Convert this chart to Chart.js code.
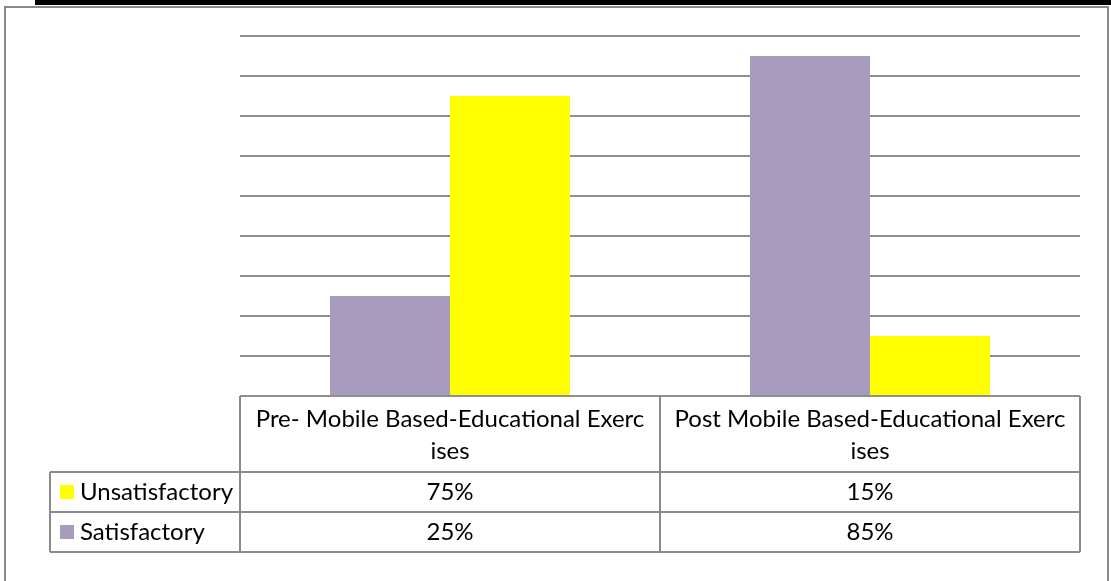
<!DOCTYPE html>
<html>
<head>
<meta charset="utf-8">
<script src="https://cdn.jsdelivr.net/npm/chart.js@4.4.1/dist/chart.umd.min.js"></script>
<style>
html,body{margin:0;padding:0;background:#fff;}
#wrap{position:relative;width:1111px;height:581px;}
canvas{display:block;}
</style>
</head>
<body>
<div id="wrap"><canvas id="c" width="1111" height="581"></canvas></div>
<script>
const categories = [["Pre- Mobile Based-Educational Exerc", "ises"], ["Post Mobile Based-Educational Exerc", "ises"]];
const seriesNames = ["Satisfactory", "Unsatisfactory"];
const satisfactory = [25, 85];
const unsatisfactory = [75, 15];
const tableRowOrder = ["Unsatisfactory", "Satisfactory"];
const colors = {Satisfactory: "#A99BBD", Unsatisfactory: "#FFFF00"};
const valueMap = {Satisfactory: satisfactory, Unsatisfactory: unsatisfactory};

const FONT_FAMILY = "Lato, 'Open Sans', sans-serif";

function fitFont(ctx, text, target, base) {
  ctx.font = base + "px " + FONT_FAMILY;
  const w = ctx.measureText(text).width;
  return Math.min(base * target / w, 24);
}

const tablePlugin = {
  id: 'tablePlugin',
  afterDraw(chart) {
    const ctx = chart.ctx;
    const ca = chart.chartArea;
    const xs = chart.scales.x;
    ctx.save();
    ctx.fillStyle = '#000';
    ctx.fillRect(35, 0, 1076, 5);
    ctx.strokeStyle = '#8a8a8a';
    ctx.lineWidth = 2;
    ctx.beginPath();
    ctx.moveTo(5, 590); ctx.lineTo(5, 7); ctx.lineTo(1108, 7); ctx.lineTo(1108, 590);
    ctx.stroke();

    const left = ca.left, right = ca.right, top = ca.bottom;
    const hdrBottom = top + 76, row1 = hdrBottom + 40, row2 = row1 + 40;
    const legLeft = 50;
    const mid = (xs.getPixelForValue(0) + xs.getPixelForValue(1)) / 2;
    ctx.strokeStyle = '#8a8a8a';
    ctx.lineWidth = 2;
    ctx.beginPath();
    ctx.moveTo(left, top); ctx.lineTo(left, row2);
    ctx.moveTo(right, top); ctx.lineTo(right, row2);
    ctx.moveTo(mid, top); ctx.lineTo(mid, row2);
    ctx.moveTo(legLeft, hdrBottom); ctx.lineTo(right, hdrBottom);
    ctx.moveTo(legLeft, row1); ctx.lineTo(right, row1);
    ctx.moveTo(legLeft, row2); ctx.lineTo(right, row2);
    ctx.moveTo(legLeft, hdrBottom); ctx.lineTo(legLeft, row2);
    ctx.stroke();

    const fs = fitFont(ctx, categories[0][0], 398, 22);
    ctx.font = fs + "px " + FONT_FAMILY;
    ctx.fillStyle = '#000';
    ctx.textAlign = 'center';
    ctx.textBaseline = 'middle';
    categories.forEach((lines, i) => {
      const cx = xs.getPixelForValue(i);
      ctx.fillText(lines[0], cx, top + 23);
      ctx.fillText(lines[1], cx, top + 55);
      tableRowOrder.forEach((name, r) => {
        ctx.fillText(valueMap[name][i] + "%", cx, hdrBottom + 20 + r * 40);
      });
    });
    ctx.textAlign = 'left';
    const lfs = fitFont(ctx, "Unsatisfactory", 155, 22);
    ctx.font = lfs + "px " + FONT_FAMILY;
    tableRowOrder.forEach((name, r) => {
      const cy = hdrBottom + 20 + r * 40;
      ctx.fillStyle = colors[name];
      ctx.fillRect(60, cy - 7, 14, 14);
      ctx.fillStyle = '#000';
      ctx.fillText(name, 80, cy);
    });
    ctx.restore();
  }
};

new Chart(document.getElementById('c'), {
  type: 'bar',
  data: {
    labels: categories,
    datasets: [
      {label: seriesNames[0], data: satisfactory, backgroundColor: colors.Satisfactory, borderWidth: 0},
      {label: seriesNames[1], data: unsatisfactory, backgroundColor: colors.Unsatisfactory, borderWidth: 0}
    ]
  },
  options: {
    responsive: false,
    animation: false,
    events: [],
    layout: {padding: {left: 240, right: 31, top: 36, bottom: 185}},
    plugins: {legend: {display: false}, tooltip: {enabled: false}},
    datasets: {bar: {categoryPercentage: 240/420, barPercentage: 1}},
    scales: {
      x: {display: false},
      y: {
        min: 0, max: 90,
        ticks: {display: false, stepSize: 10},
        border: {display: false},
        grid: {color: '#8f8f8f', lineWidth: 2, drawTicks: false}
      }
    }
  },
  plugins: [tablePlugin]
});
</script>
</body>
</html>
